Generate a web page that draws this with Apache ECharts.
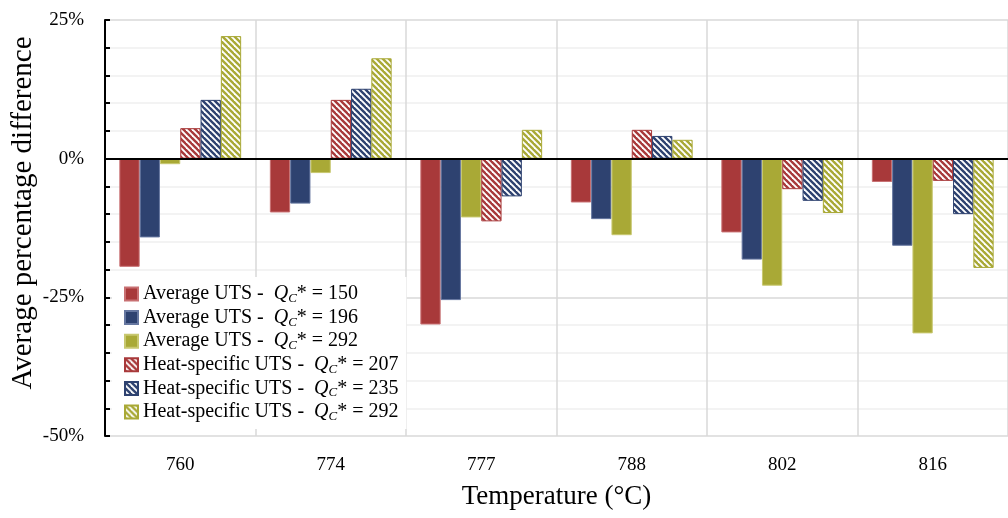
<!DOCTYPE html>
<html><head><meta charset="utf-8">
<script src="https://cdn.jsdelivr.net/npm/echarts@6/dist/echarts.min.js"></script>
<style>html,body{margin:0;padding:0;background:#fff}#c{width:1008px;height:518px}</style>
</head><body><div id="c"></div>
<script>
var categories = ['760', '774', '777', '788', '802', '816'];
var avg150 = [-19.5, -9.7, -29.9, -7.9, -13.3, -4.2];
var avg196 = [-14.2, -8.1, -25.5, -10.9, -18.2, -15.7];
var avg292 = [-1.0, -2.6, -10.6, -13.8, -22.9, -31.5];
var hs207 = [5.5, 10.6, -11.3, 5.2, -5.5, -4.0];
var hs235 = [10.6, 12.6, -6.8, 4.1, -7.6, -10.0];
var hs292 = [22.1, 18.1, 5.2, 3.4, -9.8, -19.7];
var legendPrefix = ['Average UTS - ', 'Average UTS - ', 'Average UTS - ', 'Heat-specific UTS - ', 'Heat-specific UTS - ', 'Heat-specific UTS - '];
var legendQ = ['150', '196', '292', '207', '235', '292'];
var seriesNames = ['avg150', 'avg196', 'avg292', 'hs207', 'hs235', 'hs292'];
var yTickLabels = {'25': '25%', '0': '0%', '-25': '-25%', '-50': '-50%'};

var RED = '#A8393A', BLUE = '#2E4270', OLIVE = '#A9A936';
var FONT = '"Liberation Serif", serif';

function hatch(color) {
  var s = 6;
  var cv = document.createElement('canvas');
  cv.width = s; cv.height = s;
  var ctx = cv.getContext('2d');
  ctx.fillStyle = '#fff';
  ctx.fillRect(0, 0, s, s);
  ctx.strokeStyle = color;
  ctx.lineWidth = 2.4;
  for (var k = -1; k <= 1; k++) {
    ctx.beginPath();
    ctx.moveTo(k * s - 1, -1);
    ctx.lineTo(k * s + s + 1, s + 1);
    ctx.stroke();
  }
  return {image: cv, repeat: 'repeat'};
}

function solid(name, data, color, border) {
  return {name: name, type: 'bar', data: data, barWidth: 20.3, barGap: '0%',
    itemStyle: {color: color, borderColor: border, borderWidth: 1}};
}
function hatched(name, data, color) {
  return {name: name, type: 'bar', data: data, barWidth: 20.3, barGap: '0%',
    itemStyle: {color: hatch(color), borderColor: color, borderWidth: 1}};
}

var series = [
  solid(seriesNames[0], avg150, RED, '#C87072'),
  solid(seriesNames[1], avg196, BLUE, '#6677A0'),
  solid(seriesNames[2], avg292, OLIVE, '#C8C870'),
  hatched(seriesNames[3], hs207, RED),
  hatched(seriesNames[4], hs235, BLUE),
  hatched(seriesNames[5], hs292, OLIVE)
];
series[0].markLine = {silent: true, symbol: 'none', label: {show: false},
  lineStyle: {color: '#000', width: 2, type: 'solid'}, data: [{yAxis: 0}], z: 10};

var chart = echarts.init(document.getElementById('c'));
chart.setOption({
  animation: false,
  textStyle: {fontFamily: FONT},
  grid: {left: 105, right: 0, top: 20, bottom: 82, outerBoundsMode: 'none', containLabel: false},
  legend: {
    orient: 'vertical', left: 112, top: 277, itemWidth: 13, itemHeight: 13, itemGap: 1.6,
    icon: 'rect',
    backgroundColor: '#fff', padding: [6, 8, 6, 12],
    data: seriesNames,
    formatter: function (n) {
      var i = seriesNames.indexOf(n);
      return '{a|' + legendPrefix[i] + ' }{q|Q}{s|C}{a|* = ' + legendQ[i] + '}';
    },
    textStyle: {
      fontFamily: FONT, color: '#000', fontSize: 20, lineHeight: 22,
      rich: {
        a: {fontFamily: FONT, fontSize: 20, color: '#000', lineHeight: 22},
        q: {fontFamily: FONT, fontSize: 20, fontStyle: 'italic', color: '#000', lineHeight: 22},
        s: {fontFamily: FONT, fontSize: 13, fontStyle: 'italic', color: '#000', lineHeight: 22, padding: [9, 0, 0, 0]}
      }
    }
  },
  xAxis: {
    type: 'category', data: categories,
    name: 'Temperature (°C)', nameLocation: 'middle', nameGap: 47, nameMoveOverlap: false,
    nameTextStyle: {fontFamily: FONT, fontSize: 27, color: '#000'},
    axisLine: {show: false, onZero: false},
    axisTick: {show: false},
    axisLabel: {fontFamily: FONT, fontSize: 19, color: '#000', margin: 20},
    splitLine: {show: true, interval: 0, lineStyle: {color: '#d9d9d9', width: 1.5}}
  },
  yAxis: {
    type: 'value', min: -50, max: 25, interval: 5,
    name: 'Average percentage difference', nameLocation: 'middle', nameGap: 67, nameMoveOverlap: false,
    nameTextStyle: {fontFamily: FONT, fontSize: 29, color: '#000', padding: [0, 0, 0, 30]},
    axisLine: {show: true, lineStyle: {color: '#000', width: 2}},
    axisTick: {show: true, inside: true, length: 5, lineStyle: {color: '#000', width: 2}},
    axisLabel: {fontFamily: FONT, fontSize: 19, color: '#000', margin: 21,
      formatter: function (v) { return yTickLabels[String(Math.round(v))] || ''; }},
    splitLine: {show: true, lineStyle: {color: ['#d9d9d9', '#efefef', '#efefef', '#efefef', '#efefef'], width: 1.5}}
  },
  series: series
});
</script></body></html>
